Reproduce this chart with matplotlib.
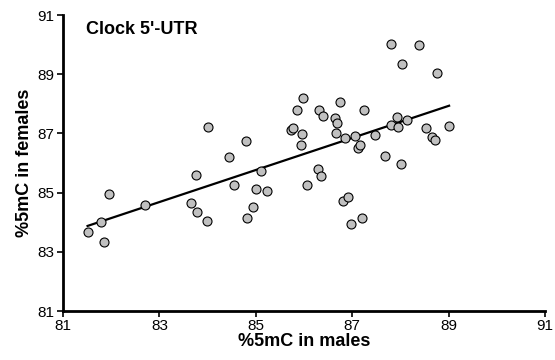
import numpy as np
import matplotlib
matplotlib.use("Agg")
import matplotlib.pyplot as plt

plt.rcParams['font.family'] = ['Liberation Sans', 'DejaVu Sans']

# %5mC values
males = [81.51, 81.78, 81.86, 81.95, 82.71, 83.65, 83.75, 83.78, 83.99, 84.00,
         84.45, 84.54, 84.79, 84.81, 84.95, 85.00, 85.10, 85.23, 85.72, 85.78,
         85.86, 85.94, 85.96, 85.97, 86.07, 86.29, 86.32, 86.35, 86.39, 86.64,
         86.66, 86.68, 86.75, 86.81, 86.86, 86.91, 86.97, 87.06, 87.12, 87.17,
         87.20, 87.24, 87.47, 87.69, 87.80, 87.80, 87.92, 87.94, 88.01, 88.04,
         88.13, 88.38, 88.53, 88.66, 88.72, 88.76, 89.01]
females = [83.68, 84.01, 83.32, 84.95, 84.57, 84.65, 85.59, 84.33, 84.05, 87.23,
           86.21, 85.26, 86.74, 84.15, 84.52, 85.13, 85.73, 85.06, 87.12, 87.17,
           87.80, 86.61, 86.98, 88.19, 85.25, 85.81, 87.79, 85.55, 87.58, 87.52,
           87.01, 87.37, 88.05, 84.73, 86.84, 84.85, 83.94, 86.92, 86.52, 86.61,
           84.14, 87.79, 86.96, 86.25, 90.02, 87.28, 87.55, 87.23, 85.98, 89.35,
           87.46, 90.00, 87.17, 86.87, 86.77, 89.03, 87.25]
ticks = [81, 83, 85, 87, 89, 91]

x = np.array(males)
y = np.array(females)

fig = plt.figure(figsize=(5.55, 3.6), dpi=100)
ax = fig.add_axes([0.1135, 0.136, 0.8685, 0.822])

# trendline
k, b = np.polyfit(x, y, 1)
xl = np.array([x.min(), x.max()])
ax.plot(xl, k * xl + b, color="black", lw=1.6, zorder=2)

ax.scatter(x, y, s=42, facecolor="#c0c0c0", edgecolor="black", linewidth=0.8, zorder=3)

ax.set_xlim(81, 91)
ax.set_ylim(81, 91)
ax.set_xticks(ticks)
ax.set_yticks(ticks)
ax.tick_params(direction="out", length=4, width=1.2, labelsize=11, pad=2)
for s in ["top", "right"]:
    ax.spines[s].set_visible(False)
for s in ["left", "bottom"]:
    ax.spines[s].set_linewidth(2)

ax.set_xlabel("%5mC in males", fontsize=13, fontweight="bold", labelpad=0)
ax.set_ylabel("%5mC in females", fontsize=13, fontweight="bold", labelpad=3)
ax.text(0.048, 0.953, "Clock 5'-UTR", transform=ax.transAxes, fontsize=13,
        fontweight="bold", va="center")

fig.savefig("out.png", dpi=100)
